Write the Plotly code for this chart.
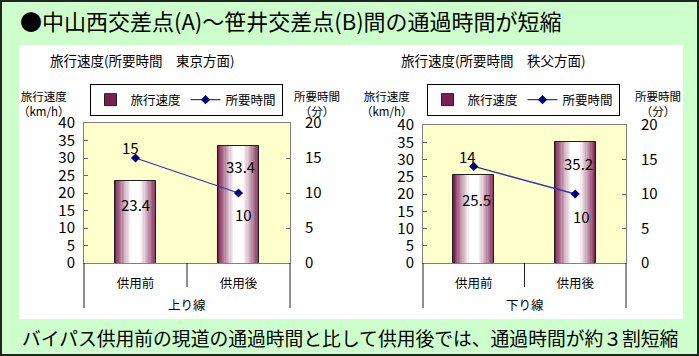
import plotly.graph_objects as go

# ---------------- data ----------------
categories = ["供用前", "供用後"]
groups = ["上り線", "下り線"]
panel_titles = ["旅行速度(所要時間　東京方面)", "旅行速度(所要時間　秩父方面)"]
speed_up = [23.4, 33.4]      # km/h
speed_down = [25.5, 35.2]    # km/h
time_up = [15, 10]           # 分
time_down = [14, 10]         # 分
speed_ticks = [0, 5, 10, 15, 20, 25, 30, 35, 40]
time_ticks = [0, 5, 10, 15, 20]
main_title = "●中山西交差点(A)～笹井交差点(B)間の通過時間が短縮"
footer = "バイパス供用前の現道の通過時間と比して供用後では、通過時間が約３割短縮"

FONT = "Noto Sans CJK JP"
W, H = 699, 356
GREEN = "#CCFFCC"
YELLOW = "#FFFFCC"
EDGE = (123, 31, 79)
LINE_C = "#3535A8"
MARK_C = "#000080"


def px(x):
    return x / W


def py(y):
    return (H - y) / H


def mix(c, t):
    r, g, b = [int(round(v + (255 - v) * t)) for v in c]
    return f"rgb({r},{g},{b})"


fig = go.Figure()

panels = [
    dict(speed=speed_up, time=time_up, group=groups[0], title=panel_titles[0],
         xa="x", ya="y", ya2="y2", xaxis="xaxis", yaxis="yaxis", yaxis2="yaxis2",
         legend="legend", dom_x=[px(84), px(290)], dom_y=[py(263), py(123)],
         title_x=142, lt_x=44, rt_x=317, leg_x=186,
         shifts=dict(b=[(0, -23), (2, -20)], l=[(-5, 11), (5, -21)])),
    dict(speed=speed_down, time=time_down, group=groups[1], title=panel_titles[1],
         xa="x2", ya="y3", ya2="y4", xaxis="xaxis2", yaxis="yaxis3", yaxis2="yaxis4",
         legend="legend2", dom_x=[px(423), px(626)], dom_y=[py(263), py(125)],
         title_x=493, lt_x=387, rt_x=658, leg_x=523,
         shifts=dict(b=[(3, -24), (3, -22)], l=[(-6, 10), (6, -22)])),
]

N = 16
shapes = [
    # outer frame and white panel
    dict(type="rect", xref="paper", yref="paper", x0=0, x1=1, y0=0, y1=1,
         line=dict(color="#222222", width=4), fillcolor="rgba(0,0,0,0)", layer="above"),
    dict(type="rect", xref="paper", yref="paper", x0=px(19), x1=px(683), y0=py(319), y1=py(45),
         line=dict(width=0), fillcolor="white", layer="below"),
]
annotations = []
layout_axes = {}

for p in panels:
    # gradient bars via overlaid layers
    for i in range(N):
        frac = i / N
        w = 0.4 * (1 - frac)
        col = mix(EDGE, min(1.0, frac * 1.3) ** 0.8)
        fig.add_trace(go.Bar(
            x=categories, y=p["speed"], width=[w] * len(categories),
            marker=dict(color=col, line=dict(color="#202020", width=1 if i == 0 else 0)),
            name="旅行速度", showlegend=(i == 0), legend=p["legend"],
            xaxis=p["xa"], yaxis=p["ya"], hoverinfo="skip"))
    fig.add_trace(go.Scatter(
        x=categories, y=p["time"], mode="lines+markers", name="所要時間",
        line=dict(color=LINE_C, width=1.3),
        marker=dict(symbol="diamond", size=7, color=MARK_C),
        legend=p["legend"], xaxis=p["xa"], yaxis=p["ya2"]))

    # value labels
    for c, v, (dx, dy) in zip(categories, p["speed"], p["shifts"]["b"]):
        annotations.append(dict(x=c, y=v, xref=p["xa"], yref=p["ya"], text=f"{v}",
                                showarrow=False, xshift=dx, yshift=dy,
                                font=dict(family=FONT, size=15, color="black")))
    for c, v, (dx, dy) in zip(categories, p["time"], p["shifts"]["l"]):
        annotations.append(dict(x=c, y=v, xref=p["xa"], yref=p["ya2"], text=f"{v}",
                                showarrow=False, xshift=dx, yshift=dy,
                                font=dict(family=FONT, size=15, color="black")))

    # panel title and axis titles
    annotations.append(dict(x=px(p["title_x"]), y=py(60), xref="paper", yref="paper",
                            text=p["title"], showarrow=False, xanchor="center", yanchor="middle",
                            font=dict(family=FONT, size=13.5, color="black")))
    for tx, t in [(p["lt_x"], "旅行速度<br>（km/h）"), (p["rt_x"], "所要時間<br>（分）")]:
        annotations.append(dict(x=px(tx), y=py(103), xref="paper", yref="paper", text=t,
                                showarrow=False, xanchor="center", yanchor="middle",
                                align="center", borderpad=0,
                                font=dict(family=FONT, size=11.5, color="black")))
    # group label
    annotations.append(dict(x=0.5, y=py(304), xref=f"{p['xa']} domain", yref="paper",
                            text=p["group"], showarrow=False, xanchor="center", yanchor="middle",
                            font=dict(family=FONT, size=12.5, color="black")))

    # plot-area background and category dividers
    shapes.append(dict(type="rect", xref=f"{p['xa']} domain", yref=f"{p['ya']} domain",
                       x0=0, x1=1, y0=0, y1=1, fillcolor=YELLOW, line=dict(width=0), layer="below"))
    for xd, ybot in [(0, 308), (0.5, 287), (1, 308)]:
        shapes.append(dict(type="line", xref=f"{p['xa']} domain", yref="paper",
                           x0=xd, x1=xd, y0=py(ybot), y1=py(263),
                           line=dict(color="#202020", width=1)))

    ax_common = dict(showgrid=False, zeroline=False, automargin=False)
    layout_axes[p["xaxis"]] = dict(
        **ax_common, domain=p["dom_x"], anchor=p["ya"], type="category",
        range=[-0.5, 1.5], showline=True, mirror=True, linecolor="#808080", linewidth=1,
        ticks="", ticklabelstandoff=9,
        tickfont=dict(family=FONT, size=12.5, color="black"))
    layout_axes[p["yaxis"]] = dict(
        **ax_common, domain=p["dom_y"], anchor=p["xa"], range=[0, 40],
        tickvals=speed_ticks, ticks="inside", ticklen=4, tickcolor="#606060",
        showline=True, linecolor="#808080", linewidth=1, ticklabelstandoff=5,
        tickfont=dict(family=FONT, size=15, color="black"))
    layout_axes[p["yaxis2"]] = dict(
        **ax_common, overlaying=p["ya"], anchor=p["xa"], side="right", range=[0, 20],
        tickvals=time_ticks, ticks="inside", ticklen=4, tickcolor="#606060",
        showline=True, linecolor="#808080", linewidth=1, ticklabelstandoff=11,
        tickfont=dict(family=FONT, size=15, color="black"))

    layout_axes[p["legend"]] = dict(
        orientation="h", x=px(p["leg_x"]), xanchor="center", y=py(84), yanchor="top",
        bgcolor="white", bordercolor="black", borderwidth=1,
        font=dict(family=FONT, size=12.5, color="black"), itemwidth=30,
        tracegroupgap=0, traceorder="normal")

annotations.append(dict(x=px(18), y=py(20), xref="paper", yref="paper", text=main_title,
                        showarrow=False, xanchor="left", yanchor="middle",
                        font=dict(family=FONT, size=22, color="black")))
annotations.append(dict(x=0.5, y=py(337), xref="paper", yref="paper", text=footer,
                        showarrow=False, xanchor="center", yanchor="middle",
                        font=dict(family=FONT, size=18.8, color="black")))

fig.update_layout(
    template="none",
    width=W, height=H, margin=dict(l=0, r=0, t=0, b=0, pad=0, autoexpand=False),
    paper_bgcolor=GREEN, plot_bgcolor="rgba(0,0,0,0)",
    barmode="overlay", bargap=0,
    font=dict(family=FONT, color="black"),
    shapes=shapes, annotations=annotations,
    **layout_axes,
)

fig.write_html(
    "out.html",
    config={"displayModeBar": False},
    post_script="document.body.style.margin='0';document.body.style.overflow='hidden';",
)
